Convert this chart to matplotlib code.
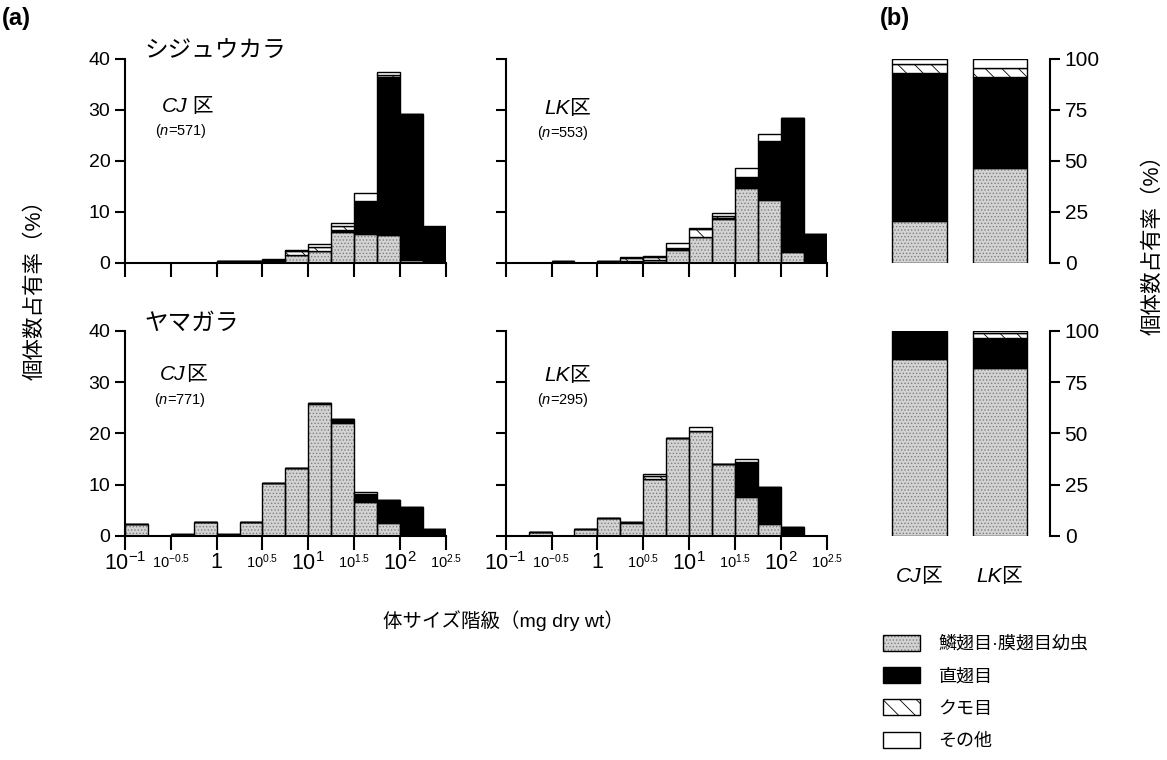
import numpy as np
import matplotlib
matplotlib.use("Agg")
import matplotlib.pyplot as plt
from matplotlib.patches import Patch
from matplotlib.transforms import blended_transform_factory

plt.rcParams['font.family'] = ['Liberation Sans', 'Noto Sans CJK JP']
plt.rcParams['mathtext.fontset'] = 'custom'
plt.rcParams['mathtext.rm'] = 'Liberation Sans'
plt.rcParams['mathtext.it'] = 'Liberation Sans:italic'
plt.rcParams['hatch.linewidth'] = 0.6

# quarter-decade size classes, 10^-1 .. 10^2.5 mg
log_edges = np.arange(-1, 2.51, 0.25)

# (a) percentages per size class: larvae / Orthoptera / Araneae / other
gt_cj_lep = [0, 0, 0, 0, 0.3, 0.3, 0.4, 1.5, 2.3, 6.0, 5.6, 5.4, 0.6, 0.1]
gt_cj_orth = [0, 0, 0, 0, 0, 0, 0.2, 0, 0, 0.4, 6.6, 31.1, 28.6, 6.9]
gt_cj_aran = [0, 0, 0, 0, 0, 0, 0, 0.8, 0.8, 0.9, 0, 0.3, 0, 0]
gt_cj_other = [0, 0, 0, 0, 0.1, 0.1, 0.1, 0.2, 0.5, 0.5, 1.5, 0.6, 0, 0.3]

gt_lk_lep = [0, 0, 0.2, 0, 0.2, 0.4, 0.5, 2.5, 5.0, 8.6, 14.7, 12.3, 2.1, 0]
gt_lk_orth = [0, 0, 0.1, 0, 0.1, 0, 0, 0.4, 0, 0.2, 2.2, 11.6, 26.4, 5.6]
gt_lk_aran = [0, 0, 0, 0, 0, 0.6, 0.6, 0, 1.6, 0.4, 0, 0, 0, 0]
gt_lk_other = [0, 0, 0, 0, 0, 0.2, 0.3, 0.9, 0.3, 0.6, 1.6, 1.4, 0, 0]

vt_cj_lep = [2.2, 0, 0, 2.6, 0, 2.6, 10.3, 13.2, 25.8, 22.1, 6.6, 2.4, 0.3, 0]
vt_cj_orth = [0, 0, 0.3, 0, 0.3, 0, 0, 0.1, 0.1, 0.8, 1.5, 4.5, 5.3, 1.3]
vt_cj_aran = [0] * 14
vt_cj_other = [0, 0, 0, 0, 0, 0, 0, 0, 0, 0, 0.5, 0, 0, 0]

vt_lk_lep = [0, 0.8, 0, 1.4, 3.5, 2.4, 11.1, 19.1, 20.5, 14.0, 7.6, 2.2, 0, 0]
vt_lk_orth = [0, 0, 0, 0, 0, 0.3, 0, 0, 0, 0, 6.9, 7.4, 1.8, 0]
vt_lk_aran = [0, 0, 0, 0, 0, 0, 0.5, 0, 0, 0, 0, 0, 0, 0]
vt_lk_other = [0, 0, 0, 0, 0, 0, 0.4, 0, 0.7, 0, 0.5, 0, 0, 0]

# (b) overall composition, CJ and LK
sites = ['CJ', 'LK']
gt_lep = [20.6, 46.6]
gt_orth = [72.4, 44.7]
gt_aran = [4.4, 4.1]
gt_other = [2.6, 4.6]
vt_lep = [86.5, 82.0]
vt_orth = [13.2, 14.6]
vt_aran = [0.0, 2.4]
vt_other = [0.3, 1.0]

xtick_logs = [-1, -0.5, 0, 0.5, 1, 1.5, 2, 2.5]
xtick_labels = ['$10^{-1}$', '$10^{-0.5}$', '1', '$10^{0.5}$',
                '$10^{1}$', '$10^{1.5}$', '$10^{2}$', '$10^{2.5}$']
category_labels = ['鱗翅目·膜翅目幼虫', '直翅目', 'クモ目', 'その他']

GRAY = '#d3d3d3'
STIPPLE = '#7e7e7e'


def stacked(ax, x, width, parts):
    bottom = np.zeros(len(x))
    lep, orth, aran, other = [np.asarray(p, float) for p in parts]
    # stippled grey for larvae
    ax.bar(x, lep, width, bottom=bottom, align='edge', color=GRAY,
           edgecolor=STIPPLE, hatch='.....', linewidth=0)
    ax.bar(x, lep, width, bottom=bottom, align='edge', fill=False,
           edgecolor='black', linewidth=1)
    bottom = bottom + lep
    ax.bar(x, orth, width, bottom=bottom, align='edge', color='black',
           edgecolor='black', linewidth=1)
    bottom = bottom + orth
    ax.bar(x, aran, width, bottom=bottom, align='edge', color='white',
           edgecolor='black', hatch='\\\\', linewidth=1)
    bottom = bottom + aran
    ax.bar(x, other, width, bottom=bottom, align='edge', color='white',
           edgecolor='black', linewidth=1)


def site_text(ax, x, y, site, n, gap=''):
    t = ax.text(x, y, site, transform=ax.transAxes, fontsize=15,
                style='italic', va='center')
    ax.annotate(gap + '区', xy=(1, 0.5), xycoords=t, fontsize=15,
                va='center', ha='left')
    ax.text(x - 0.02, y - 0.12, '($n$=%d)' % n, transform=ax.transAxes,
            fontsize=10.5, va='center')


def hist_panel(ax, parts, ylabels, xlabels):
    left = 10.0 ** log_edges[:-1]
    width = 10.0 ** log_edges[1:] - left
    stacked(ax, left, width, parts)
    ax.set_xscale('log')
    ax.set_xlim(10 ** -1, 10 ** 2.5)
    ax.set_ylim(0, 40)
    for s in ['top', 'right']:
        ax.spines[s].set_visible(False)
    for s in ['left', 'bottom']:
        ax.spines[s].set_linewidth(1.5)
    ax.set_xticks([10.0 ** v for v in xtick_logs])
    ax.xaxis.set_minor_locator(matplotlib.ticker.NullLocator())
    ax.set_yticks([0, 10, 20, 30, 40])
    ax.tick_params(axis='y', direction='out', length=7, width=1.5,
                   labelsize=14, labelleft=ylabels)
    ax.tick_params(axis='x', direction='out', length=10, width=1.5, pad=2)
    if xlabels:
        ax.set_xticklabels(xtick_labels)
        for lab, v in zip(ax.get_xticklabels(), xtick_logs):
            lab.set_fontsize(15.5 if float(v).is_integer() else 10.5)
    else:
        ax.set_xticklabels([])


def comp_panel(ax, parts, xlabels):
    x = np.arange(len(sites))
    w = 0.68
    lep, orth, aran, other = [np.asarray(p, float) for p in parts]
    ax.bar(x, lep, w, color=GRAY, edgecolor=STIPPLE, hatch='.....', linewidth=0)
    ax.bar(x, lep, w, fill=False, edgecolor='black', linewidth=1)
    ax.bar(x, orth, w, bottom=lep, color='black', edgecolor='black', linewidth=1)
    ax.bar(x, aran, w, bottom=lep + orth, color='white', edgecolor='black',
           hatch='\\\\', linewidth=1)
    ax.bar(x, other, w, bottom=lep + orth + aran, color='white',
           edgecolor='black', linewidth=1)
    ax.set_xlim(-0.492, 1.625)
    ax.set_ylim(0, 100)
    for s in ['top', 'left', 'bottom']:
        ax.spines[s].set_visible(False)
    ax.spines['right'].set_linewidth(1.5)
    ax.yaxis.tick_right()
    ax.set_yticks([0, 25, 50, 75, 100])
    ax.set_xticks([])
    ax.tick_params(axis='y', direction='out', length=7, width=1.5, labelsize=15)
    if xlabels:
        tr = blended_transform_factory(ax.transData, ax.transAxes)
        for xi, s in zip(x, sites):
            t = ax.text(xi + 0.02, -0.2, s, transform=tr, fontsize=15,
                        style='italic', ha='right', va='center')
            ax.annotate('区', xy=(1, 0.5), xycoords=t, fontsize=15,
                        ha='left', va='center')


fig = plt.figure(figsize=(11.67, 7.6), dpi=100)

ax1 = fig.add_axes([0.1071, 0.6543, 0.2748, 0.2681])
ax2 = fig.add_axes([0.4333, 0.6543, 0.2751, 0.2681])
ax3 = fig.add_axes([0.1071, 0.2951, 0.2748, 0.2694])
ax4 = fig.add_axes([0.4333, 0.2951, 0.2751, 0.2694])
ax5 = fig.add_axes([0.7541, 0.6543, 0.1457, 0.2681])
ax6 = fig.add_axes([0.7541, 0.2951, 0.1457, 0.2694])

hist_panel(ax1, [gt_cj_lep, gt_cj_orth, gt_cj_aran, gt_cj_other], True, False)
hist_panel(ax2, [gt_lk_lep, gt_lk_orth, gt_lk_aran, gt_lk_other], False, False)
hist_panel(ax3, [vt_cj_lep, vt_cj_orth, vt_cj_aran, vt_cj_other], True, True)
hist_panel(ax4, [vt_lk_lep, vt_lk_orth, vt_lk_aran, vt_lk_other], False, True)

ax1.text(0.062, 1.04, 'シジュウカラ', transform=ax1.transAxes, fontsize=17,
         va='center')
ax3.text(0.062, 1.034, 'ヤマガラ', transform=ax3.transAxes, fontsize=17,
         va='center')

site_text(ax1, 0.114, 0.767, 'CJ', 571, gap=' ')
site_text(ax2, 0.119, 0.755, 'LK', 553)
site_text(ax3, 0.109, 0.785, 'CJ', 771)
site_text(ax4, 0.119, 0.783, 'LK', 295)

comp_panel(ax5, [gt_lep, gt_orth, gt_aran, gt_other], False)
comp_panel(ax6, [vt_lep, vt_orth, vt_aran, vt_other], True)

fig.text(0.002, 0.975, '(a)', fontsize=17, fontweight='bold', va='center')
fig.text(0.754, 0.975, '(b)', fontsize=17, fontweight='bold', va='center')
fig.text(0.030, 0.625, '個体数占有率（%）', fontsize=15.5, rotation=90,
         ha='center', va='center')
fig.text(0.988, 0.685, '個体数占有率（%）', fontsize=15.5, rotation=90,
         ha='center', va='center')
fig.text(0.431, 0.183, '体サイズ階級（mg dry wt）', fontsize=14,
         ha='center', va='center')

handles = [
    (Patch(facecolor=GRAY, edgecolor=STIPPLE, hatch='.....', linewidth=0),
     Patch(fill=False, edgecolor='black', linewidth=1)),
    Patch(facecolor='black', edgecolor='black', linewidth=1),
    Patch(facecolor='white', edgecolor='black', hatch='\\\\', linewidth=1),
    Patch(facecolor='white', edgecolor='black', linewidth=1),
]
fig.legend(handles, category_labels, loc='upper left',
           bbox_to_anchor=(0.757, 0.165), frameon=False, fontsize=13,
           handlelength=2.05, handleheight=1.0, handletextpad=1.0,
           labelspacing=0.78, borderpad=0, borderaxespad=0)

fig.savefig('out.png', dpi=100)
